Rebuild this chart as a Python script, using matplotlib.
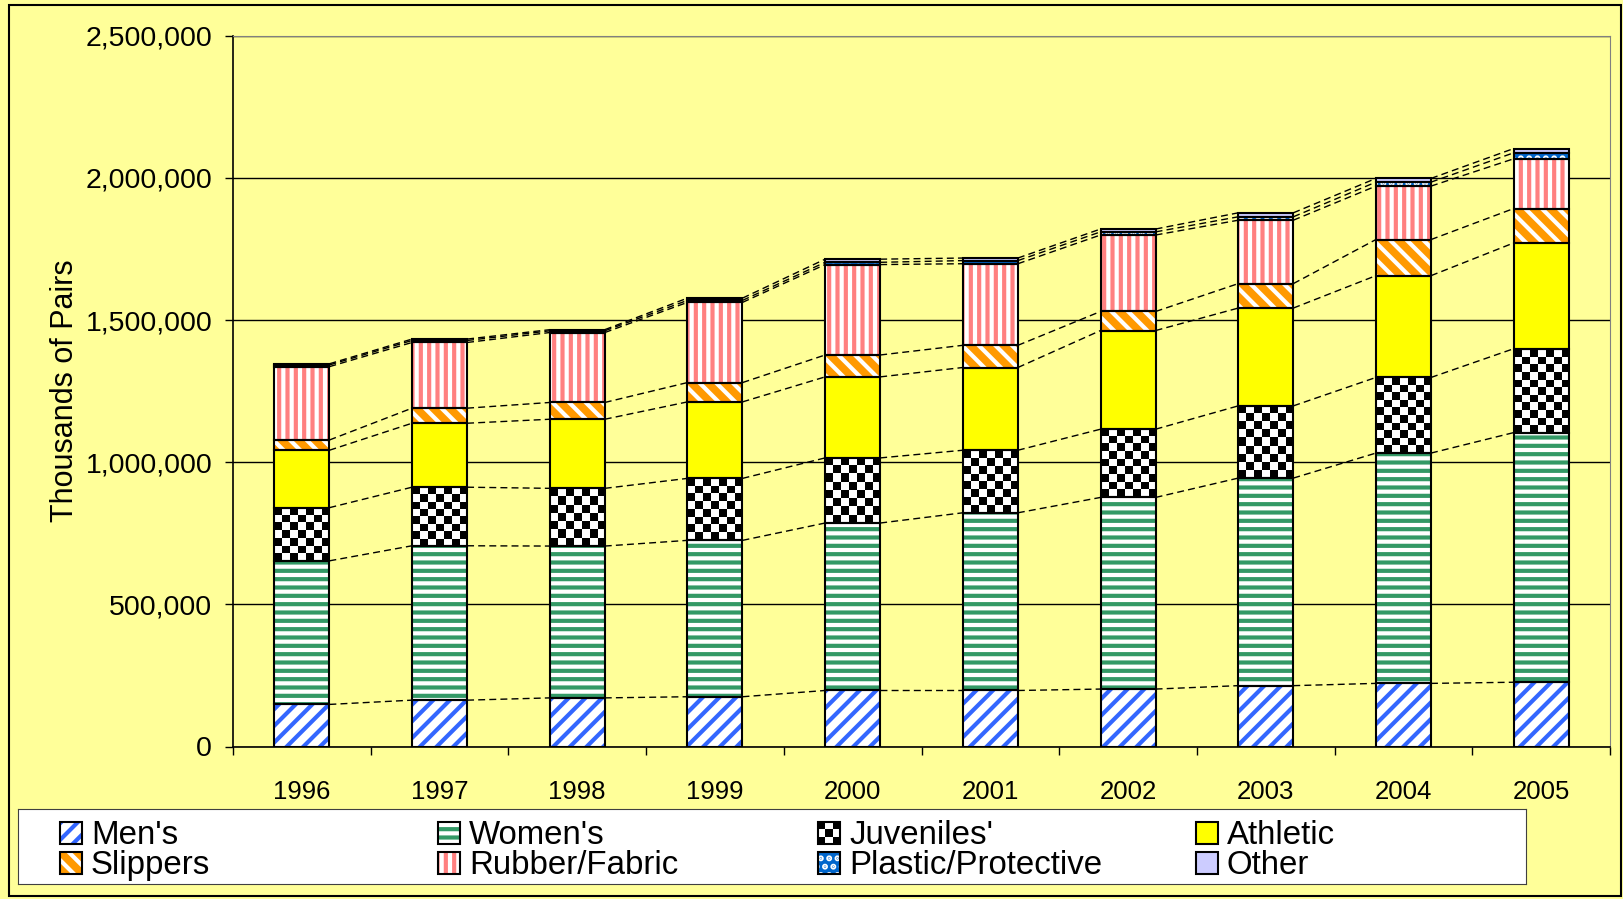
import matplotlib
matplotlib.use("Agg")
import matplotlib.pyplot as plt
from matplotlib.patches import Rectangle
import matplotlib.ticker as mtick
import numpy as np

plt.rcParams['font.family'] = ['Liberation Sans', 'DejaVu Sans']
plt.rcParams['hatch.linewidth'] = 3.0

# 数据（千双）
years = ['1996', '1997', '1998', '1999', '2000', '2001', '2002', '2003', '2004', '2005']
mens = [148000, 163000, 171000, 175000, 197000, 197000, 202000, 214000, 222000, 226000]
womens = [505000, 543000, 534000, 550000, 589000, 625000, 674000, 730000, 810000, 878000]
juveniles = [187000, 206000, 203000, 218000, 229000, 220000, 240000, 254000, 266000, 295000]
athletic = [202000, 225000, 243000, 269000, 285000, 291000, 347000, 344000, 358000, 372000]
slippers = [36000, 53000, 59000, 68000, 77000, 78000, 67000, 86000, 127000, 121000]
rubber = [258000, 231000, 246000, 282000, 318000, 287000, 269000, 223000, 188000, 175000]
plastic = [6000, 7000, 6000, 7000, 8000, 11000, 11000, 12000, 14000, 21000]
other = [4000, 5000, 4000, 8000, 11000, 9000, 10000, 14000, 13000, 15000]

series_names = ["Men's", "Women's", "Juveniles'", "Athletic",
                "Slippers", "Rubber/Fabric", "Plastic/Protective", "Other"]
series_vals = [mens, womens, juveniles, athletic, slippers, rubber, plastic, other]

# 样式: (填充色, 花纹颜色, 花纹)；None 表示棋盘格
styles = [
    ('white', '#3366FF', '//'),
    ('white', '#339966', '--'),
    None,
    ('#FFFF00', '#FFFF00', None),
    ('#FF9900', 'white', '\\\\'),
    ('white', '#FF8080', '||'),
    ('#0066CC', 'white', '..'),
    ('#CCCCFF', '#CCCCFF', None),
]

BG = '#FFFF99'
W = 0.4


def checker(nrows, ncols):
    return np.indices((nrows, ncols)).sum(axis=0) % 2


fig = plt.figure(figsize=(16.24, 8.99), dpi=100, facecolor=BG)
ax = fig.add_axes([233 / 1624, 1 - 746.5 / 899, (1610 - 233) / 1624, (746.5 - 35.7) / 899])
ax.set_facecolor(BG)
ax.set_xlim(-0.5, len(years) - 0.5)
ax.set_ylim(0, 2500000)

x = np.arange(len(years))
px_per_val = (ax.transData.transform((0, 1e6))[1] - ax.transData.transform((0, 0))[1]) / 1e6

bottom = np.zeros(len(years))
tops = []
for vals, st in zip(series_vals, styles):
    vals = np.array(vals, dtype=float)
    if st is None:
        ax.bar(x, vals, W, bottom=bottom, color='white', linewidth=0, zorder=2)
        for xi, b, v in zip(x, bottom, vals):
            nrows = max(1, int(round(v * px_per_val / 7.8)))
            ax.imshow(checker(nrows, 7), cmap='gray', interpolation='nearest', aspect='auto',
                      extent=(xi - W / 2, xi + W / 2, b, b + v), zorder=2.2)
    else:
        fc, hc, h = st
        ax.bar(x, vals, W, bottom=bottom, color=fc, edgecolor=hc, hatch=h, linewidth=0, zorder=2)
    ax.bar(x, vals, W, bottom=bottom, fill=False, edgecolor='black', linewidth=1.5, zorder=3)
    bottom = bottom + vals
    tops.append(bottom.copy())

# 系列线
for top in tops:
    for i in range(len(years) - 1):
        ax.plot([x[i] + W / 2, x[i + 1] - W / 2], [top[i], top[i + 1]],
                color='black', lw=1.0, ls=(0, (5, 3)), zorder=1.5)

ax.set_xlim(-0.5, len(years) - 0.5)
ax.set_ylim(0, 2500000)

# 坐标轴
ax.set_yticks(np.arange(0, 2500001, 500000))
ax.yaxis.set_major_formatter(mtick.FuncFormatter(lambda v, p: '{:,.0f}'.format(v)))
ax.tick_params(axis='y', labelsize=20.5, length=6, width=1, pad=9)
ax.set_xticks(x)
ax.set_xticklabels(years)
ax.set_xticks(np.arange(-0.5, len(years)), minor=True)
ax.tick_params(axis='x', which='major', length=0, labelsize=18.5, pad=24)
ax.tick_params(axis='x', which='minor', length=6, width=1)
ax.yaxis.grid(True, color='black', lw=1)
ax.set_axisbelow(True)
ax.set_ylabel('Thousands of Pairs', fontsize=22)
ax.yaxis.set_label_coords(-0.111, 0.5)
for s in ['top', 'right']:
    ax.spines[s].set_color('#808080')
for s in ['left', 'bottom']:
    ax.spines[s].set_color('black')
    ax.spines[s].set_linewidth(1.2)

# 图例（手工绘制，四列等宽）
lax = fig.add_axes([18 / 1624, 1 - 884 / 899, (1526 - 18) / 1624, (884 - 809) / 899])
lax.set_facecolor('white')
lax.set_xticks([])
lax.set_yticks([])
for s in lax.spines.values():
    s.set_color('#404040')
col_x = [60, 438, 818, 1196]
row_y = [822, 852]
order = [0, 4, 1, 5, 2, 6, 3, 7]
for k, idx in enumerate(order):
    mx = col_x[k // 2]
    my = row_y[k % 2]
    st = styles[idx]
    if st is None:
        lax.imshow(checker(3, 3), cmap='gray', interpolation='nearest', aspect='auto',
                   extent=(mx, mx + 22, my + 22, my))
    else:
        fc, hc, h = st
        lax.add_patch(Rectangle((mx, my), 22, 22, facecolor=fc, edgecolor=hc, hatch=h, linewidth=0))
    lax.add_patch(Rectangle((mx, my), 22, 22, fill=False, edgecolor='black', linewidth=1.5, zorder=3))
    lax.text(mx + 31, my + 22, series_names[idx], fontsize=23.8, va='baseline', ha='left')
lax.set_xlim(18, 1526)
lax.set_ylim(884, 809)

# 外框
fig.patches.append(Rectangle((9 / 1624, 1 - 896 / 899), (1621 - 9) / 1624, (896 - 5) / 899,
                             transform=fig.transFigure, fill=False, edgecolor='black', linewidth=1.5))

plt.savefig('out.png', dpi=100, facecolor=BG)
